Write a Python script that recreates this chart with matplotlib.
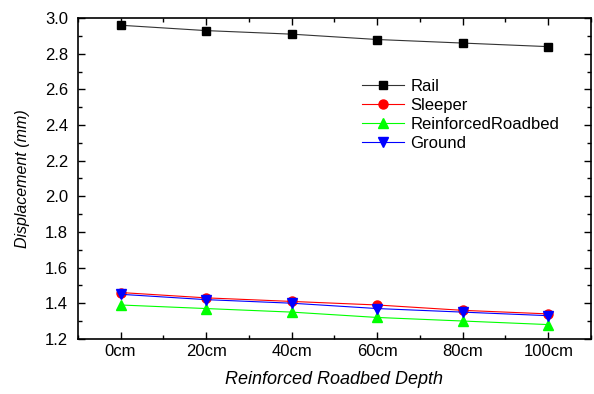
import matplotlib
matplotlib.use("Agg")
import matplotlib.pyplot as plt
from matplotlib.ticker import MultipleLocator

plt.rcParams['font.family'] = ['Liberation Sans', 'DejaVu Sans']

categories = ["0cm", "20cm", "40cm", "60cm", "80cm", "100cm"]
rail = [2.96, 2.93, 2.91, 2.88, 2.86, 2.84]
sleeper = [1.46, 1.43, 1.41, 1.39, 1.36, 1.34]
roadbed = [1.39, 1.37, 1.35, 1.32, 1.30, 1.28]
ground = [1.45, 1.42, 1.40, 1.37, 1.35, 1.33]

fig = plt.figure(figsize=(5.94, 3.94), dpi=100)
ax = fig.add_axes([0.131, 0.140, 0.864, 0.814])
x = list(range(len(categories)))

ax.plot(x, rail, color='#333333', lw=0.8, marker='s', ms=6, mfc='black', mec='black', label='Rail')
ax.plot(x, sleeper, color='red', lw=0.8, marker='o', ms=6.5, mfc='red', mec='red', label='Sleeper')
ax.plot(x, roadbed, color='#00ff00', lw=0.8, marker='^', ms=7, mfc='#00ff00', mec='#00ff00', label='ReinforcedRoadbed')
ax.plot(x, ground, color='blue', lw=0.8, marker='v', ms=7, mfc='blue', mec='blue', label='Ground')

ax.set_xlim(-0.5, 5.5)
ax.set_ylim(1.2, 3.0)
ax.set_xticks(x)
ax.set_xticklabels(categories)
ax.xaxis.set_minor_locator(MultipleLocator(0.5))
ax.yaxis.set_major_locator(MultipleLocator(0.2))
ax.yaxis.set_minor_locator(MultipleLocator(0.1))
ax.tick_params(which='both', direction='in', top=True, right=True, labelsize=12, width=1)
ax.tick_params(which='major', length=5)
ax.tick_params(which='minor', length=3)
ax.tick_params(axis='y', which='major', pad=7)
for s in ax.spines.values():
    s.set_linewidth(1.2)

ax.set_xlabel('Reinforced Roadbed Depth', fontsize=13, style='italic', labelpad=9)
ax.set_ylabel('Displacement (mm)', fontsize=11.5, style='italic', labelpad=11)

ax.legend(loc='upper left', bbox_to_anchor=(362 / 594, 1 - 79 / 394),
          bbox_transform=fig.transFigure, frameon=False, fontsize=12,
          handlelength=2.5, handletextpad=0.4, labelspacing=0.24,
          borderpad=0, borderaxespad=0)

fig.savefig('out.png', dpi=100)
